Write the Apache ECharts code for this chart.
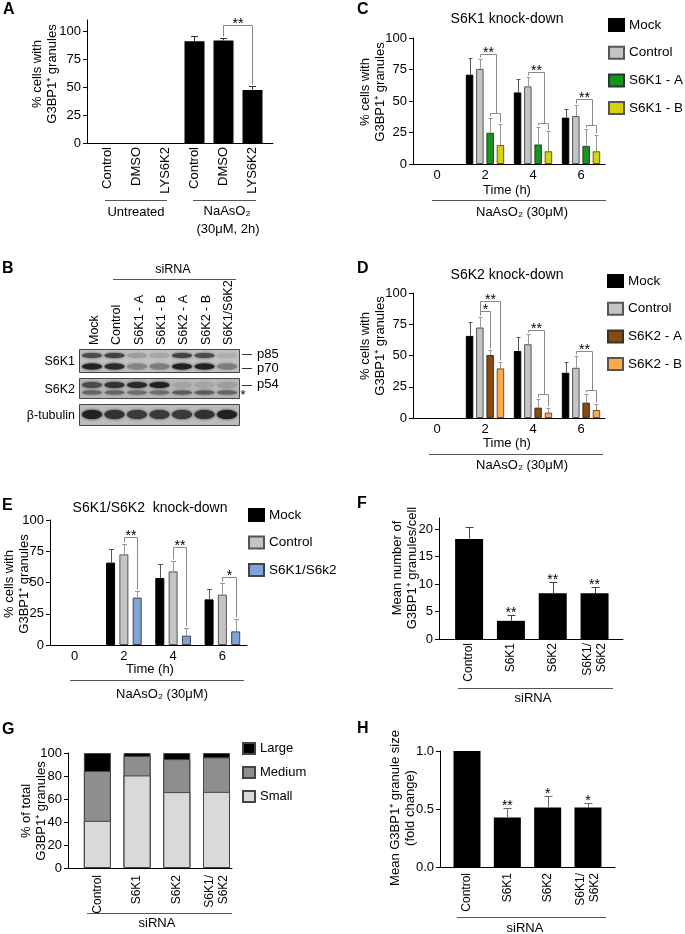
<!DOCTYPE html>
<html>
<head>
<meta charset="utf-8">
<script src="https://cdn.jsdelivr.net/npm/echarts@6/dist/echarts.min.js"></script>
<style>
html,body{margin:0;padding:0;background:#fff}
#main{width:685px;height:934px}
</style>
</head>
<body>
<div id="main"></div>
<script>
var FONT = '"Liberation Sans", Arial, sans-serif';

// ---- panel A
var aCats = ['Control', 'DMSO', 'LYS6K2', 'Control', 'DMSO', 'LYS6K2'];
var aVals = [0, 0, 0, 91.1, 91.7, 47.3];
var aErr = [0, 0, 0, 95.3, 94.1, 51.2];
var aTicks = [0, 25, 50, 75, 100];
// [leftCat, leftSlot, rightCat, rightSlots, level, subLevel, label]
var aBrackets = [[4, 0, 5, [0], 105.9, null, '**']];

// ---- panel B (western blot band intensity 0..1)
var laneNames = ['Mock', 'Control', 'S6K1 - A', 'S6K1 - B', 'S6K2 - A', 'S6K2 - B', 'S6K1/S6K2'];
var bandP85 = [0.7, 0.75, 0.2, 0.15, 0.75, 0.7, 0.1];
var bandP70 = [0.95, 0.9, 0.35, 0.4, 0.95, 0.95, 0.4];
var bandP54 = [0.7, 0.85, 0.9, 0.95, 0.15, 0.15, 0.2];
var bandStar = [0.55, 0.55, 0.5, 0.5, 0.6, 0.6, 0.55];
var bandTub = [0.95, 0.85, 0.8, 0.8, 0.8, 0.85, 0.95];

// ---- panels C, D, E
var timeCats = ['0', '2', '4', '6'];
var timeTicks = [0, 25, 50, 75, 100];

var mockC = [0, 70.9, 56.8, 36.8], mockCErr = [0, 84, 67.7, 44];
var ctrlC = [0, 75.5, 61.6, 38.1], ctrlCErr = [0, 83.5, 68.8, 47];
var s6k1A = [0, 24.8, 15.5, 14.4], s6k1AErr = [0, 36.3, 29.6, 27.5];
var s6k1B = [0, 15, 10.1, 10.1], s6k1BErr = [0, 31.7, 26.4, 23];
var cBrackets = [
    [1, 1, 1, [2, 3], 87.5, 40.8, '**'],
    [2, 1, 2, [2, 3], 73.3, 32.3, '**'],
    [3, 1, 3, [2, 3], 51.5, 30.7, '**']
];

var mockD = [0, 65.7, 53.6, 36.2], mockDErr = [0, 77.2, 64.6, 44.5];
var ctrlD = [0, 72.4, 59, 40.2], ctrlDErr = [0, 80.7, 67, 49.6];
var s6k2A = [0, 50.4, 8.3, 12.3], s6k2AErr = [0, 54.4, 15.5, 19];
var s6k2B = [0, 39.7, 4.3, 6.4], s6k2BErr = [0, 45, 8.3, 11.5];
var dBrackets = [
    [1, 1, 1, [3], 93.3, null, '**'],
    [1, 1, 1, [2], 85.8, null, '*'],
    [2, 1, 2, [2, 3], 70.5, 19.3, '**'],
    [3, 1, 3, [2, 3], 53.6, 22.3, '**']
];

var mockE = [0, 65.9, 53.6, 36.5], mockEErr = [0, 76.8, 64.5, 44.5];
var ctrlE = [0, 72.5, 58.9, 40.3], ctrlEErr = [0, 81, 66.9, 49.3];
var dkE = [0, 37.9, 7.5, 10.9], dkEErr = [0, 43.2, 13.9, 20.5];
var eBrackets = [
    [1, 1, 1, [2], 86.7, null, '**'],
    [2, 1, 2, [2], 78.1, null, '**'],
    [3, 1, 3, [2], 54.7, null, '*']
];

// ---- panels F, G, H
var siCats = ['Control', 'S6K1', 'S6K2', 'S6K1/\nS6K2'];
var fVals = [18.2, 3.3, 8.3, 8.3];
var fErr = [20.4, 4.3, 10.4, 9.5];
var fStars = ['', '**', '**', '**'];
var fTicks = [0, 5, 10, 15, 20];

var gSmall = [41, 80.5, 66, 66.2];
var gMedium = [43.4, 17, 28.7, 30];
var gLarge = [15.6, 2.5, 5.3, 3.8];

var hVals = [1.0, 0.426, 0.514, 0.514];
var hErr = [1.0, 0.511, 0.614, 0.554];
var hStars = ['', '**', '*', '*'];

// ---------- helpers
function offsets(n, bw, gap) {
    var o = [];
    for (var i = 0; i < n; i++) o.push((i - (n - 1) / 2) * (bw + gap));
    return o;
}

function errData(vals, errs) {
    var d = [];
    for (var s = 0; s < vals.length; s++) {
        for (var c = 0; c < vals[s].length; c++) {
            if (errs[s][c] > vals[s][c]) d.push([c, s, vals[s][c], errs[s][c]]);
        }
    }
    return d;
}

function errRender(offs, cap, colors) {
    return function (params, api) {
        var c = api.value(0), s = api.value(1);
        var p0 = api.coord([c, api.value(2)]);
        var p1 = api.coord([c, api.value(3)]);
        var x = Math.round(p0[0] + offs[s]) + 0.5;
        var y1 = Math.round(p1[1]) + 0.5;
        var st = {stroke: colors[s], lineWidth: 1};
        return {
            type: 'group',
            children: [
                {type: 'line', shape: {x1: x, y1: p0[1], x2: x, y2: y1}, style: st},
                {type: 'line', shape: {x1: x - cap, y1: y1, x2: x + cap, y2: y1}, style: st}
            ]
        };
    };
}

function bracketRender(brs, errs, offs) {
    return function (params, api) {
        var b = brs[params.dataIndex];
        function px(cat, slot, v) {
            var p = api.coord([cat, v]);
            return [Math.round(p[0] + offs[slot]) + 0.5, Math.round(p[1]) + 0.5];
        }
        function bot(cat, slot) {
            return px(cat, slot, errs[slot][cat])[1] - 2;
        }
        var st = {stroke: '#8a8a8a', lineWidth: 1, fill: null};
        var kids = [];
        var L = px(b[0], b[1], b[4]);
        var rs = b[3], rx;
        if (rs.length === 1) {
            var R = px(b[2], rs[0], b[4]);
            kids.push({type: 'polyline', shape: {points: [[L[0], bot(b[0], b[1])], L, R, [R[0], bot(b[2], rs[0])]]}, style: st});
            rx = R[0];
        } else {
            var A = px(b[2], rs[0], b[5]), B = px(b[2], rs[1], b[5]);
            var mid = Math.round((A[0] + B[0]) / 2) + 0.5;
            kids.push({type: 'polyline', shape: {points: [[L[0], bot(b[0], b[1])], L, [mid, L[1]], [mid, A[1]]]}, style: st});
            kids.push({type: 'polyline', shape: {points: [[A[0], bot(b[2], rs[0])], A, B, [B[0], bot(b[2], rs[1])]]}, style: st});
            rx = mid;
        }
        kids.push({
            type: 'text', x: (L[0] + rx) / 2, y: L[1] - 1,
            style: {text: b[6], fill: '#000', fontSize: 14, fontFamily: FONT, align: 'center', verticalAlign: 'middle'}
        });
        return {type: 'group', children: kids};
    };
}

function starRender(labels) {
    return function (params, api) {
        var p = api.coord([api.value(0), api.value(1)]);
        return {
            type: 'text', x: p[0], y: p[1] - 2,
            style: {text: labels[params.dataIndex], fill: '#000', fontSize: 14, fontFamily: FONT, align: 'center', verticalAlign: 'middle'}
        };
    };
}

function txt(x, y, s, o) {
    o = o || {};
    return {
        type: 'text', x: x, y: y, rotation: o.rot || 0,
        style: {
            text: s, fill: '#000', fontFamily: FONT, fontSize: o.size || 13,
            fontWeight: o.bold ? 'bold' : 'normal', lineHeight: o.lh || 15,
            align: o.align || 'center', verticalAlign: o.va || 'middle'
        }
    };
}
function ln(x1, y1, x2, y2, c) {
    return {type: 'line', shape: {x1: x1, y1: y1 + 0.5, x2: x2, y2: y2 + 0.5}, style: {stroke: c || '#555', lineWidth: 1}};
}
function bandColor(I) {
    var g = Math.round(190 - 165 * I);
    return 'rgb(' + g + ',' + g + ',' + g + ')';
}
// zero-height bars are left out (no outline at time 0)
function nz(arr) {
    return arr.map(function (v) { return v === 0 ? '-' : v; });
}

// ---------- axes
var axLine = {show: true, onZero: false, lineStyle: {color: '#000', width: 1}};
function yAx(grid, min, max, ticks, fmt) {
    return {
        type: 'value', gridIndex: grid, min: min, max: max,
        axisLine: axLine, splitLine: {show: false},
        axisTick: {show: true, length: 4, customValues: ticks, lineStyle: {color: '#000'}},
        axisLabel: {color: '#000', fontFamily: FONT, fontSize: 13, margin: 6, customValues: ticks, formatter: fmt}
    };
}
function xCat(grid) {
    return {
        type: 'category', gridIndex: grid, data: timeCats,
        axisLine: axLine, axisTick: {show: false}, splitLine: {show: false},
        axisLabel: {color: '#000', fontFamily: FONT, fontSize: 13, margin: 5}
    };
}
function xVal(grid, min, max, names, size, margin) {
    var cv = names.map(function (n, i) { return i; });
    return {
        type: 'value', gridIndex: grid, min: min, max: max,
        axisLine: axLine, axisTick: {show: false}, splitLine: {show: false},
        axisLabel: {
            color: '#000', fontFamily: FONT, fontSize: size, margin: margin, rotate: 90,
            customValues: cv, lineHeight: 14,
            formatter: function (v) { return names[Math.round(v)]; }
        }
    };
}

// ---------- bar geometry
var cdBW = 7.5, cdGap = 2.8;
var cdOff = offsets(4, cdBW, cdGap);
var eBW = 9, eGap = 4.3;
var eOff = offsets(3, eBW, eGap);

var sty = {
    mock: {color: '#000', borderColor: '#000', borderWidth: 1},
    ctrl: {color: '#c4c4c4', borderColor: '#555', borderWidth: 1},
    k1a: {color: '#14961a', borderColor: '#333', borderWidth: 1},
    k1b: {color: '#d6d20e', borderColor: '#555', borderWidth: 1},
    k2a: {color: '#8a4a0c', borderColor: '#333', borderWidth: 1},
    k2b: {color: '#f8ab48', borderColor: '#555', borderWidth: 1},
    dk: {color: '#7ea4da', borderColor: '#444', borderWidth: 1}
};

function groupBars(names, datas, styles, xi, bw, gap) {
    return names.map(function (n, i) {
        return {
            type: 'bar', name: n, xAxisIndex: xi, yAxisIndex: xi, data: nz(datas[i]),
            barWidth: bw, barGap: (gap / bw * 100) + '%', itemStyle: styles[i], silent: true
        };
    });
}
function custom(xi, data, render, z) {
    return {type: 'custom', xAxisIndex: xi, yAxisIndex: xi, data: data, renderItem: render, silent: true, z: z || 5};
}

var series = [];
// A
series.push({type: 'bar', xAxisIndex: 0, yAxisIndex: 0, barWidth: 20, silent: true,
    data: aVals.map(function (v, i) { return [i, v]; }), itemStyle: {color: '#000'}});
series.push(custom(0, errData([aVals], [aErr]), errRender([0], 3.5, ['#333'])));
series.push(custom(0, aBrackets.map(function (b) { return [b[0], b[4]]; }), bracketRender(aBrackets, [aErr], [0])));
// C
series = series.concat(groupBars(['Mock', 'Control', 'S6K1 - A', 'S6K1 - B'], [mockC, ctrlC, s6k1A, s6k1B],
    [sty.mock, sty.ctrl, sty.k1a, sty.k1b], 1, cdBW, cdGap));
series.push(custom(1, errData([mockC, ctrlC, s6k1A, s6k1B], [mockCErr, ctrlCErr, s6k1AErr, s6k1BErr]),
    errRender(cdOff, 2, ['#555', '#999', '#999', '#999'])));
series.push(custom(1, cBrackets.map(function (b) { return [b[0], b[4]]; }),
    bracketRender(cBrackets, [mockCErr, ctrlCErr, s6k1AErr, s6k1BErr], cdOff)));
// D
series = series.concat(groupBars(['Mock', 'Control', 'S6K2 - A', 'S6K2 - B'], [mockD, ctrlD, s6k2A, s6k2B],
    [sty.mock, sty.ctrl, sty.k2a, sty.k2b], 2, cdBW, cdGap));
series.push(custom(2, errData([mockD, ctrlD, s6k2A, s6k2B], [mockDErr, ctrlDErr, s6k2AErr, s6k2BErr]),
    errRender(cdOff, 2, ['#555', '#999', '#999', '#999'])));
series.push(custom(2, dBrackets.map(function (b) { return [b[0], b[4]]; }),
    bracketRender(dBrackets, [mockDErr, ctrlDErr, s6k2AErr, s6k2BErr], cdOff)));
// E
series = series.concat(groupBars(['Mock', 'Control', 'S6K1/S6k2'], [mockE, ctrlE, dkE],
    [sty.mock, sty.ctrl, sty.dk], 3, eBW, eGap));
series.push(custom(3, errData([mockE, ctrlE, dkE], [mockEErr, ctrlEErr, dkEErr]),
    errRender(eOff, 2.5, ['#555', '#999', '#999'])));
series.push(custom(3, eBrackets.map(function (b) { return [b[0], b[4]]; }),
    bracketRender(eBrackets, [mockEErr, ctrlEErr, dkEErr], eOff)));
// F
series.push({type: 'bar', xAxisIndex: 4, yAxisIndex: 4, barWidth: 28, silent: true,
    data: fVals.map(function (v, i) { return [i, v]; }), itemStyle: {color: '#000'}});
series.push(custom(4, errData([fVals], [fErr]), errRender([0], 4, ['#444'])));
series.push(custom(4, fErr.map(function (v, i) { return [i, v]; }), starRender(fStars)));
// G: stacked segments drawn as overlapping cumulative bars (Large on bottom layer)
var gCumMedium = gSmall.map(function (v, i) { return v + gMedium[i]; });
var gCumLarge = gCumMedium.map(function (v, i) { return v + gLarge[i]; });
[['Large', gCumLarge, '#000'], ['Medium', gCumMedium, '#8e8e8e'], ['Small', gSmall, '#d9d9d9']].forEach(function (s) {
    series.push({type: 'bar', name: s[0], barGap: '-100%', xAxisIndex: 5, yAxisIndex: 5, barWidth: 27, silent: true,
        data: s[1].map(function (v, i) { return [i, v]; }),
        itemStyle: {color: s[2], borderColor: '#444', borderWidth: 1}});
});
// H
series.push({type: 'bar', xAxisIndex: 6, yAxisIndex: 6, barWidth: 27, silent: true,
    data: hVals.map(function (v, i) { return [i, v]; }), itemStyle: {color: '#000'}});
series.push(custom(6, errData([hVals], [hErr]), errRender([0], 4, ['#666'])));
series.push(custom(6, hErr.map(function (v, i) { return [i, v]; }), starRender(hStars)));

// ---------- legends
function legend(names, left, top, gap, w, h, size) {
    return {
        data: names, orient: 'vertical', left: left, top: top, padding: 0,
        itemWidth: w, itemHeight: h, itemGap: gap, icon: 'rect', selectedMode: false,
        textStyle: {color: '#000', fontFamily: FONT, fontSize: size}
    };
}

// ---------- graphic (labels, group lines, blot)
var g = [];
g.push(txt(3, 10, 'A', {bold: true, size: 16, align: 'left'}));
g.push(txt(357, 10, 'C', {bold: true, size: 16, align: 'left'}));
g.push(txt(2, 269, 'B', {bold: true, size: 16, align: 'left'}));
g.push(txt(357, 269, 'D', {bold: true, size: 16, align: 'left'}));
g.push(txt(2, 506, 'E', {bold: true, size: 16, align: 'left'}));
g.push(txt(357, 504, 'F', {bold: true, size: 16, align: 'left'}));
g.push(txt(2, 730, 'G', {bold: true, size: 16, align: 'left'}));
g.push(txt(357, 729, 'H', {bold: true, size: 16, align: 'left'}));

g.push(txt(507, 19, 'S6K1 knock-down', {size: 14}));
g.push(txt(507, 275, 'S6K2 knock-down', {size: 14}));
g.push(txt(150, 508, 'S6K1/S6K2  knock-down', {size: 14}));

var rot = Math.PI / 2;
g.push(txt(44.5, 74, '% cells with\nG3BP1\u207A granules', {rot: rot}));
g.push(txt(373, 92, '% cells with\nG3BP1\u207A granules', {rot: rot}));
g.push(txt(373, 346, '% cells with\nG3BP1\u207A granules', {rot: rot}));
g.push(txt(17, 584, '% cells with\nG3BP1\u207A granules', {rot: rot}));
g.push(txt(405, 568, 'Mean number of\nG3BP1\u207A granules/cell', {rot: rot}));
g.push(txt(34, 811, '% of total\nG3BP1\u207A granules', {rot: rot}));
g.push(txt(403, 808, 'Mean G3BP1\u207A granule size\n(fold change)', {rot: rot}));

// A groups
g.push(ln(105, 200, 167, 200));
g.push(txt(136, 212, 'Untreated'));
g.push(ln(193, 200, 256, 200));
g.push(txt(227, 211, 'NaAsO\u2082'));
g.push(txt(228, 229, '(30\u03BCM, 2h)'));
// C, D, E
g.push(txt(507, 190, 'Time (h)'));
g.push(ln(432, 200, 606, 200));
g.push(txt(522, 212, 'NaAsO\u2082 (30\u03BCM)'));
g.push(txt(507, 443, 'Time (h)'));
g.push(ln(429, 454, 603, 454));
g.push(txt(522, 465, 'NaAsO\u2082 (30\u03BCM)'));
g.push(txt(150, 669, 'Time (h)'));
g.push(ln(70, 680, 244, 680));
g.push(txt(162, 694, 'NaAsO\u2082 (30\u03BCM)'));
// F, G, H
g.push(ln(458, 688, 613, 688));
g.push(txt(533, 698, 'siRNA'));
g.push(ln(87, 913, 232, 913));
g.push(txt(157, 923, 'siRNA'));
g.push(ln(457, 917, 606, 917));
g.push(txt(525, 928, 'siRNA'));

// B blot
g.push(txt(173, 270, 'siRNA', {size: 12.5}));
g.push(ln(113, 279, 236, 279));
var laneLabelX = [95, 117, 140, 162, 184, 207, 229];
laneNames.forEach(function (n, i) {
    g.push(txt(laneLabelX[i], 345, n, {rot: rot, align: 'left', size: 12.5}));
});
var boxes = [[349, 372, '#c2c2c2'], [378, 398, '#b8b8b8'], [404, 425, '#bcbcbc']];
boxes.forEach(function (b) {
    g.push({type: 'rect', shape: {x: 79.5, y: b[0] + 0.5, width: 160, height: b[1] - b[0]},
        style: {fill: b[2], stroke: '#444', lineWidth: 1}});
});
function bands(arr, cy, ry) {
    arr.forEach(function (I, i) {
        var c = bandColor(I);
        g.push({type: 'ellipse', shape: {cx: 92 + i * 22.5, cy: cy, rx: 10, ry: ry},
            style: {fill: c, shadowBlur: 3, shadowColor: c}});
    });
}
bands(bandP85, 355.5, 2.5);
bands(bandP70, 366.5, 3);
bands(bandP54, 385, 3);
bands(bandStar, 392.5, 2);
bands(bandTub, 414.5, 4.5);
g.push(txt(75, 362, 'S6K1', {align: 'right', size: 12.5}));
g.push(txt(75, 390, 'S6K2', {align: 'right', size: 12.5}));
g.push(txt(75, 416, '\u03B2-tubulin', {align: 'right', size: 12.5}));
g.push(ln(242, 354, 252, 354, '#333'));
g.push(txt(257, 354, 'p85', {align: 'left', size: 13}));
g.push(ln(242, 368, 252, 368, '#333'));
g.push(txt(257, 368, 'p70', {align: 'left', size: 13}));
g.push(ln(242, 385, 252, 385, '#333'));
g.push(txt(257, 384, 'p54', {align: 'left', size: 13}));
g.push(txt(243, 395, '*', {align: 'center', size: 13}));

var option = {
    animation: false,
    backgroundColor: '#fff',
    textStyle: {fontFamily: FONT},
    grid: [
        {left: 87, top: 20, width: 186, height: 123, outerBoundsMode: 'none'},
        {left: 413, top: 38, width: 192, height: 126, outerBoundsMode: 'none'},
        {left: 413, top: 293, width: 192, height: 125, outerBoundsMode: 'none'},
        {left: 50, top: 520, width: 197, height: 125, outerBoundsMode: 'none'},
        {left: 439, top: 518, width: 184, height: 121, outerBoundsMode: 'none'},
        {left: 68, top: 753, width: 164, height: 115, outerBoundsMode: 'none'},
        {left: 440, top: 751, width: 175, height: 116, outerBoundsMode: 'none'}
    ],
    xAxis: [
        xVal(0, -0.707, 5.707, aCats, 13, 4),
        xCat(1),
        xCat(2),
        xCat(3),
        xVal(4, -0.72, 3.68, siCats, 12, 4),
        xVal(5, -0.74, 3.39, siCats, 12, 7),
        xVal(6, -0.67, 3.67, siCats, 12, 6)
    ],
    yAxis: [
        yAx(0, 0, 110, aTicks),
        yAx(1, 0, 100, timeTicks),
        yAx(2, 0, 100, timeTicks),
        yAx(3, 0, 100, timeTicks),
        yAx(4, 0, 22, fTicks),
        yAx(5, 0, 100, [0, 20, 40, 60, 80, 100]),
        yAx(6, 0, 1, [0, 0.5, 1], function (v) { return v.toFixed(1); })
    ],
    legend: [
        legend(['Mock', 'Control', 'S6K1 - A', 'S6K1 - B'], 608, 18, 13.7, 15, 12, 13.5),
        legend(['Mock', 'Control', 'S6K2 - A', 'S6K2 - B'], 607, 274, 13.7, 15, 12, 13.5),
        legend(['Mock', 'Control', 'S6K1/S6k2'], 248, 508, 13.5, 15, 12, 13.5),
        legend(['Large', 'Medium', 'Small'], 242, 742, 11, 12, 11, 13)
    ],
    graphic: {elements: g},
    series: series
};

var chart = echarts.init(document.getElementById('main'));
chart.setOption(option);
</script>
</body>
</html>
